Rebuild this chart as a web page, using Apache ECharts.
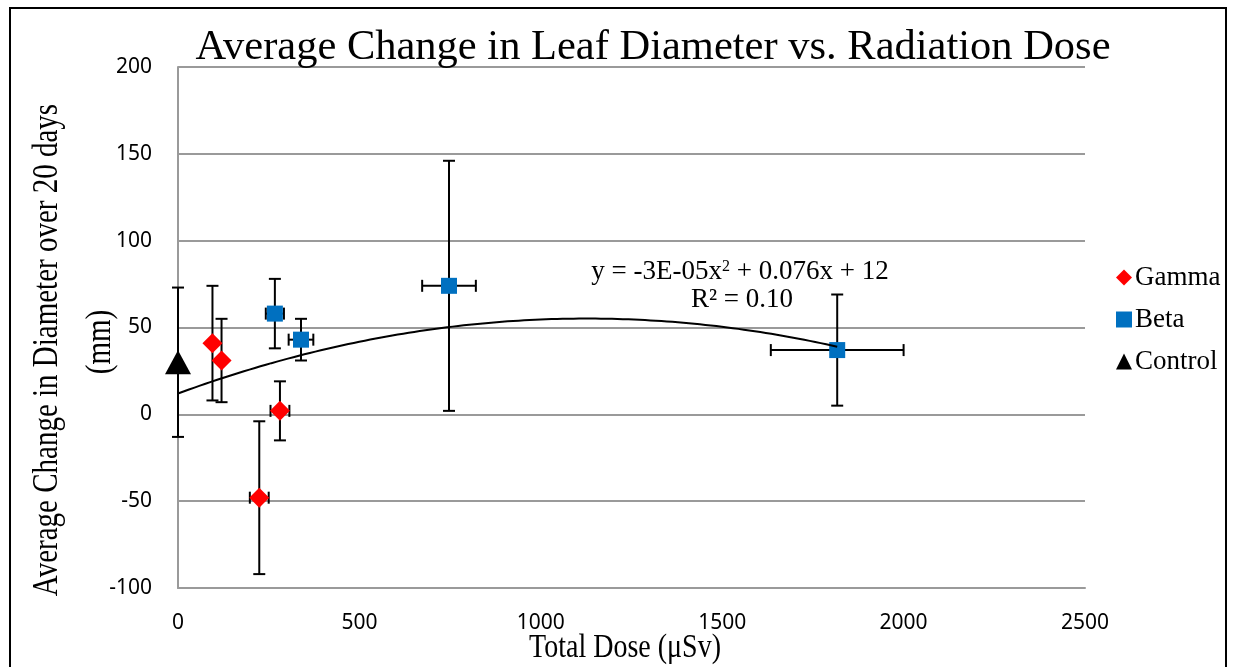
<!DOCTYPE html>
<html>
<head>
<meta charset="utf-8">
<script src="https://cdn.jsdelivr.net/npm/echarts@6/dist/echarts.min.js"></script>
<style>
    html, body { margin: 0; padding: 0; background: #fff; }
    #chart { width: 1233px; height: 667px; }
</style>
</head>
<body>
<div id="chart"></div>
<script>
// 数据
const gammaX = [95, 120, 224, 281];
const gammaY = [41, 31, -48, 2];
const gammaXErr = [0, 0, 26, 26];
const gammaYErr = [33, 24, 44, 17];

const betaX = [267, 339, 747, 1817];
const betaY = [58, 43, 74, 37];
const betaXErr = [25, 34, 74, 183];
const betaYErr = [20, 12, 72, 32];

const controlX = [0];
const controlY = [30];
const controlXErr = [0];
const controlYErr = [43];

// 趋势线系数 y = a*x^2 + b*x + c，范围 0 ~ 1817
const trendCoef = [-3.4e-5, 0.0766, 12];
const trendRange = [0, 1817];

const serif = '"Liberation Serif", "Times New Roman", serif';
const sans = '"Noto Sans", "Open Sans", sans-serif';

function toPoints(xs, ys) {
    return xs.map((x, i) => [x, ys[i]]);
}

function toErrors(xs, ys, xe, ye) {
    return xs.map((x, i) => [x, ys[i], xe[i], ye[i]]);
}

function trendPoints() {
    const pts = [];
    const steps = 120;
    for (let i = 0; i <= steps; i++) {
        const x = trendRange[0] + (trendRange[1] - trendRange[0]) * i / steps;
        pts.push([x, trendCoef[0] * x * x + trendCoef[1] * x + trendCoef[2]]);
    }
    return pts;
}

// 误差线
function renderErrorBar(params, api) {
    const x = api.value(0), y = api.value(1);
    const xe = api.value(2), ye = api.value(3);
    const cap = 6;
    const style = { stroke: '#000', lineWidth: 2 };
    const children = [];
    if (ye > 0) {
        const top = api.coord([x, y + ye]);
        const bot = api.coord([x, y - ye]);
        children.push(
            { type: 'line', shape: { x1: top[0], y1: top[1], x2: bot[0], y2: bot[1] }, style },
            { type: 'line', shape: { x1: top[0] - cap, y1: top[1], x2: top[0] + cap, y2: top[1] }, style },
            { type: 'line', shape: { x1: bot[0] - cap, y1: bot[1], x2: bot[0] + cap, y2: bot[1] }, style }
        );
    }
    if (xe > 0) {
        const l = api.coord([x - xe, y]);
        const r = api.coord([x + xe, y]);
        children.push(
            { type: 'line', shape: { x1: l[0], y1: l[1], x2: r[0], y2: r[1] }, style },
            { type: 'line', shape: { x1: l[0], y1: l[1] - cap, x2: l[0], y2: l[1] + cap }, style },
            { type: 'line', shape: { x1: r[0], y1: r[1] - cap, x2: r[0], y2: r[1] + cap }, style }
        );
    }
    return { type: 'group', children };
}

const chart = echarts.init(document.getElementById('chart'));

const option = {
    animation: false,
    backgroundColor: '#fff',
    grid: { left: 178, right: 148, top: 67, bottom: 79 },
    title: {
        text: 'Average Change in Leaf Diameter vs. Radiation Dose',
        left: 648,
        top: 21,
        textAlign: 'center',
        textStyle: { fontFamily: serif, fontSize: 42.5, fontWeight: 'normal', color: '#000' }
    },
    legend: {
        orient: 'vertical',
        left: 1111,
        top: 259,
        itemGap: 15,
        itemWidth: 16,
        itemHeight: 16,
        data: ['Gamma', 'Beta', 'Control'],
        textStyle: { fontFamily: serif, fontSize: 27, color: '#000', padding: [0, 0, 0, -2] }
    },
    xAxis: {
        type: 'value',
        min: 0,
        max: 2500,
        interval: 500,
        axisLine: { onZero: false, lineStyle: { color: '#9a9a9a', width: 2 } },
        axisTick: { show: false },
        splitLine: { show: false },
        axisLabel: { fontFamily: sans, fontSize: 21, color: '#000', margin: 25, formatter: v => String(v) }
    },
    yAxis: {
        type: 'value',
        min: -100,
        max: 200,
        interval: 50,
        axisLine: { show: true, lineStyle: { color: '#9a9a9a', width: 2 } },
        axisTick: { show: false },
        splitLine: { lineStyle: { color: '#9a9a9a', width: 2 } },
        axisLabel: { fontFamily: sans, fontSize: 21, color: '#000', margin: 26 }
    },
    graphic: [
        {
            type: 'rect',
            shape: { x: 10, y: 8, width: 1216, height: 680 },
            style: { fill: 'none', stroke: '#000', lineWidth: 2 },
            silent: true
        },
        {
            type: 'text',
            x: 625,
            y: 648,
            scaleY: 1.2,
            style: {
                text: 'Total Dose (μSv)',
                font: '28px ' + serif,
                fill: '#000',
                align: 'center',
                verticalAlign: 'middle'
            }
        },
        {
            type: 'text',
            x: 48,
            y: 350,
            rotation: Math.PI / 2,
            scaleY: 1.2,
            style: {
                text: 'Average Change in Diameter over 20 days',
                font: '29px ' + serif,
                fill: '#000',
                align: 'center',
                verticalAlign: 'middle'
            }
        },
        {
            type: 'text',
            x: 101,
            y: 342,
            rotation: Math.PI / 2,
            scaleY: 1.2,
            style: {
                text: '(mm)',
                font: '29px ' + serif,
                fill: '#000',
                align: 'center',
                verticalAlign: 'middle'
            }
        },
        {
            type: 'text',
            x: 740,
            y: 272,
            style: {
                text: '{t|y = -3E-05x}{s|2}{t| + 0.076x + 12}',
                align: 'center',
                verticalAlign: 'middle',
                rich: {
                    t: { fontFamily: serif, fontSize: 27, color: '#000' },
                    s: { fontFamily: serif, fontSize: 16, color: '#000', verticalAlign: 'top', padding: [0, 0, 10, 0] }
                }
            }
        },
        {
            type: 'text',
            x: 742,
            y: 300,
            style: {
                text: 'R² = 0.10',
                font: '27px ' + serif,
                fill: '#000',
                align: 'center',
                verticalAlign: 'middle'
            }
        }
    ],
    series: [
        {
            name: 'errGamma',
            type: 'custom',
            renderItem: renderErrorBar,
            data: toErrors(gammaX, gammaY, gammaXErr, gammaYErr),
            z: 1
        },
        {
            name: 'errBeta',
            type: 'custom',
            renderItem: renderErrorBar,
            data: toErrors(betaX, betaY, betaXErr, betaYErr),
            z: 1
        },
        {
            name: 'errControl',
            type: 'custom',
            renderItem: renderErrorBar,
            data: toErrors(controlX, controlY, controlXErr, controlYErr),
            z: 1
        },
        {
            name: 'Gamma',
            type: 'scatter',
            symbol: 'diamond',
            symbolSize: 20,
            itemStyle: { color: '#ff0000', opacity: 1 },
            data: toPoints(gammaX, gammaY),
            z: 3
        },
        {
            name: 'Beta',
            type: 'scatter',
            symbol: 'rect',
            symbolSize: 16,
            itemStyle: { color: '#0070c0', opacity: 1 },
            data: toPoints(betaX, betaY),
            z: 3
        },
        {
            name: 'Control',
            type: 'scatter',
            symbol: 'triangle',
            symbolSize: [26, 24],
            itemStyle: { color: '#000', opacity: 1 },
            data: toPoints(controlX, controlY),
            z: 3
        },
        {
            name: 'trend',
            type: 'line',
            showSymbol: false,
            smooth: false,
            lineStyle: { color: '#000', width: 2 },
            data: trendPoints(),
            z: 4
        }
    ]
};

chart.setOption(option);
</script>
</body>
</html>
